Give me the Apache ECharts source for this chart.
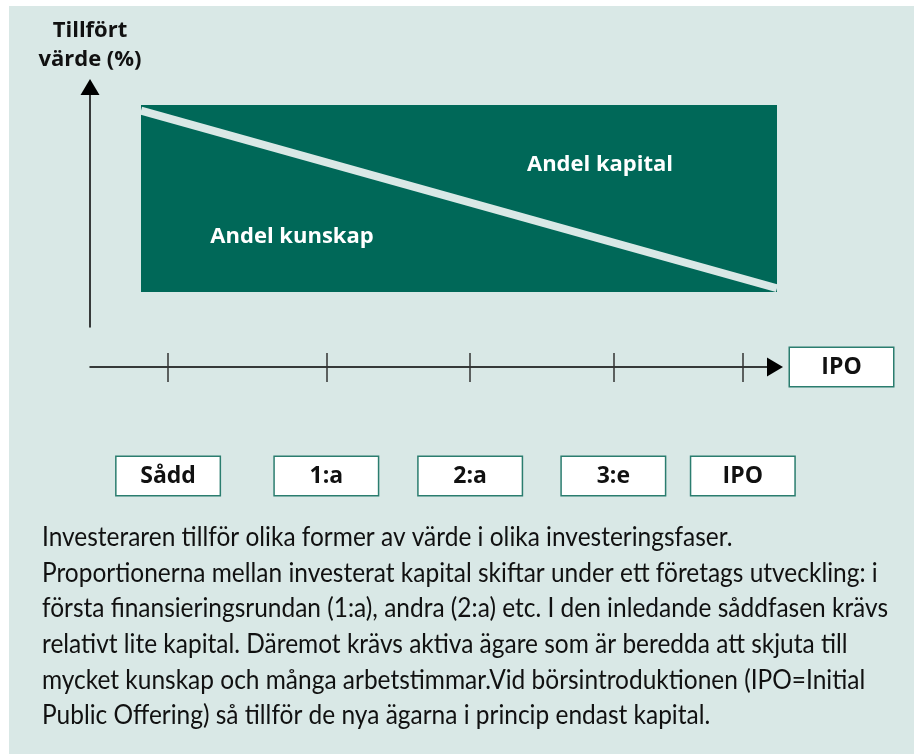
<!DOCTYPE html>
<html>
<head>
<meta charset="utf-8">
<title>Tillfört värde</title>
<script src="https://cdn.jsdelivr.net/npm/echarts@6/dist/echarts.min.js"></script>
<style>
html, body { margin: 0; padding: 0; background: #fff; }
#main { width: 914px; height: 754px; }
</style>
</head>
<body>
<div id="main"></div>
<script>
// investeringsfaser langs tidsaxeln (0-100)
var stageTicks = [11.4, 34.5, 55.5, 76.4, 95.3];
var stageNames = ['Sådd', '1:a', '2:a', '3:e', 'IPO'];

// andel av tillfört värde (%) i början och slutet
var phaseX = [0, 100];
var kunskap = [97, 2];
var kapital = [3, 98];

var textLines = [
  'Investeraren tillför olika former av värde i olika investeringsfaser.',
  'Proportionerna mellan investerat kapital skiftar under ett företags utveckling: i',
  'första finansieringsrundan (1:a), andra (2:a) etc. I den inledande såddfasen krävs',
  'relativt lite kapital. Däremot krävs aktiva ägare som är beredda att skjuta till',
  'mycket kunskap och många arbetstimmar.Vid börsintroduktionen (IPO=Initial',
  'Public Offering) så tillför de nya ägarna i princip endast kapital.'
];

var bg = '#d9e8e6';
var green = '#006858';
var boxBorder = '#2b7d6f';
var boldFont = '"Open Sans", "Liberation Sans", sans-serif';
var textFont = 'Lato, "Noto Sans", sans-serif';

// skala brödtexten så att längsta raden får samma bredd som i originalet
var ctx = document.createElement('canvas').getContext('2d');
ctx.font = '26px ' + textFont;
var maxW = 0;
textLines.forEach(function (l) { maxW = Math.max(maxW, ctx.measureText(l).width); });
var textScale = 846 / maxW;

function pairs(xs, ys) {
  return xs.map(function (x, i) { return [x, ys[i]]; });
}

var chart = echarts.init(document.getElementById('main'));

var boxLabel = {
  fontFamily: boldFont, fontSize: 23, fontWeight: 'bold', color: '#111',
  backgroundColor: '#fff', borderColor: boxBorder, borderWidth: 1.5,
  width: 103, height: 38, lineHeight: 38, align: 'center'
};

var option = {
  backgroundColor: bg,
  animation: false,
  grid: [
    { left: 141, top: 105, width: 636, height: 187, outerBoundsMode: 'none', containLabel: false },
    { left: 90, top: 87, width: 10, height: 240, outerBoundsMode: 'none', containLabel: false },
    { left: 90, top: 300, width: 685, height: 67, outerBoundsMode: 'none', containLabel: false }
  ],
  xAxis: [
    { gridIndex: 0, type: 'value', min: 0, max: 100, show: false },
    { gridIndex: 1, type: 'value', min: 0, max: 100, show: false },
    {
      gridIndex: 2, type: 'value', min: 0, max: 100, position: 'bottom',
      axisLine: {
        show: true, onZero: false,
        symbol: ['none', 'triangle'], symbolSize: [19, 16],
        lineStyle: { color: '#000', width: 1.5 }
      },
      axisTick: {
        show: true, customValues: stageTicks, length: 15,
        lineStyle: { color: '#333', width: 1.5 }
      },
      axisLabel: Object.assign({
        show: true, customValues: stageTicks, margin: 90,
        formatter: function (v) {
          var i = stageTicks.indexOf(v);
          return i < 0 ? '' : stageNames[i];
        }
      }, boxLabel),
      splitLine: { show: false },
      name: '{box|IPO}',
      nameLocation: 'end',
      nameGap: 15,
      nameTextStyle: { rich: { box: boxLabel } }
    },
    {
      gridIndex: 2, type: 'value', min: 0, max: 100, position: 'bottom',
      axisLine: { show: false, onZero: false },
      axisTick: {
        show: true, inside: true, customValues: stageTicks, length: 14,
        lineStyle: { color: '#333', width: 1.5 }
      },
      axisLabel: { show: false },
      splitLine: { show: false }
    }
  ],
  yAxis: [
    { gridIndex: 0, type: 'value', min: 0, max: 100, show: false },
    {
      gridIndex: 1, type: 'value', min: 0, max: 100, position: 'left',
      axisLine: {
        show: true, onZero: false,
        symbol: ['none', 'triangle'], symbolSize: [19, 16],
        lineStyle: { color: '#000', width: 1.5 }
      },
      axisTick: { show: false },
      axisLabel: { show: false },
      splitLine: { show: false },
      name: 'Tillfört\nvärde (%)',
      nameLocation: 'end',
      nameGap: 13,
      nameTextStyle: {
        fontFamily: boldFont, fontSize: 22, fontWeight: 'bold', color: '#111',
        lineHeight: 29
      }
    },
    { gridIndex: 2, type: 'value', min: 0, max: 1, show: false }
  ],
  series: [
    {
      // kapital fylls uppifrån (100 %) ner till gränsen mot kunskap
      name: 'Andel kapital', type: 'line', xAxisIndex: 0, yAxisIndex: 0,
      data: pairs(phaseX, kapital.map(function (v) { return 100 - v; })),
      symbol: 'none', silent: true, z: 2,
      lineStyle: { width: 0 },
      areaStyle: { color: green, opacity: 1, origin: 'end' }
    },
    {
      name: 'Andel kunskap', type: 'line', xAxisIndex: 0, yAxisIndex: 0,
      data: pairs(phaseX, kunskap),
      symbol: 'none', silent: true, z: 3,
      lineStyle: { color: bg, width: 8 },
      areaStyle: { color: green, opacity: 1, origin: 'start' }
    }
  ],
  graphic: [
    { type: 'rect', silent: true, shape: { x: 0, y: 0, width: 914, height: 6 }, style: { fill: '#fff' } },
    { type: 'rect', silent: true, shape: { x: 0, y: 0, width: 9, height: 754 }, style: { fill: '#fff' } },
    {
      type: 'text', x: 600, y: 165, z: 100,
      style: { text: 'Andel kapital', fill: '#fff', fontFamily: boldFont, fontSize: 22, fontWeight: 'bold', align: 'center', verticalAlign: 'middle' }
    },
    {
      type: 'text', x: 292, y: 237, z: 100,
      style: { text: 'Andel kunskap', fill: '#fff', fontFamily: boldFont, fontSize: 22, fontWeight: 'bold', align: 'center', verticalAlign: 'middle' }
    },
    {
      type: 'text', x: 42, y: 520, scaleX: textScale, z: 100,
      style: { text: textLines.join('\n'), fill: '#111', fontFamily: textFont, fontSize: 26, lineHeight: 35.6, verticalAlign: 'top' }
    }
  ]
};

chart.setOption(option);
</script>
</body>
</html>
